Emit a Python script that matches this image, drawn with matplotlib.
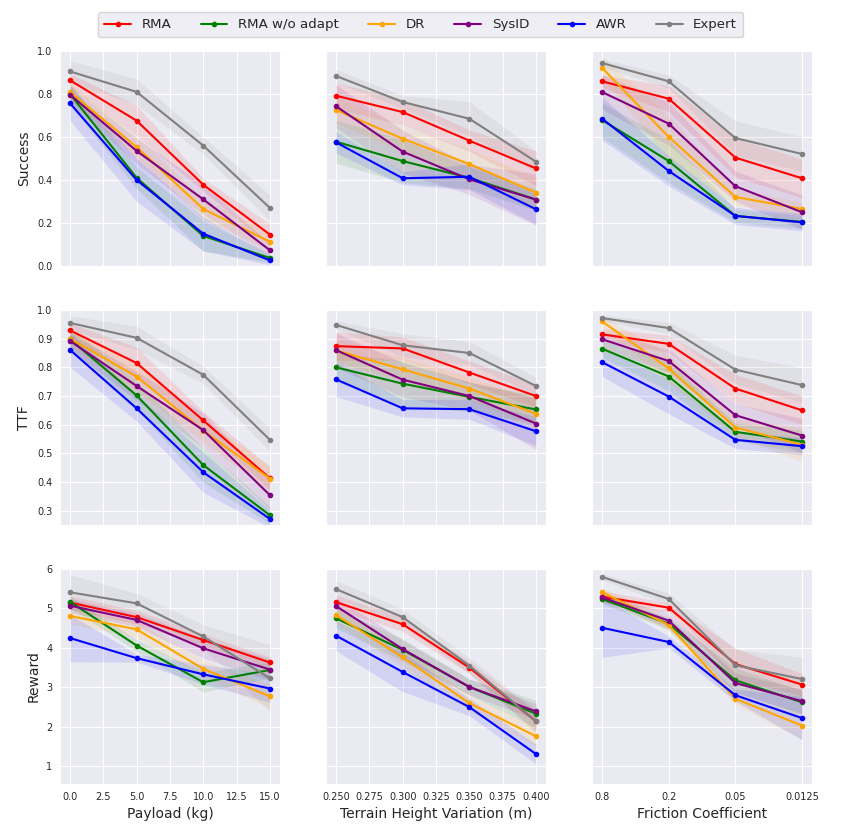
import numpy as np
import matplotlib
matplotlib.use("Agg")
import matplotlib.pyplot as plt
import seaborn as sns

# methods / colours
methods = ["RMA", "RMA w/o adapt", "DR", "SysID", "AWR", "Expert"]
colors = ["red", "green", "orange", "purple", "blue", "gray"]

# x axes
payload = [0.0, 5.0, 10.0, 15.0]
terrain = [0.25, 0.30, 0.35, 0.40]
friction_labels = ["0.8", "0.2", "0.05", "0.0125"]

# ---- Success ----
success_payload = {
    "RMA":           [0.864, 0.676, 0.378, 0.146],
    "RMA w/o adapt": [0.800, 0.410, 0.140, 0.037],
    "DR":            [0.810, 0.553, 0.265, 0.113],
    "SysID":         [0.797, 0.535, 0.310, 0.073],
    "AWR":           [0.757, 0.400, 0.150, 0.026],
    "Expert":        [0.905, 0.810, 0.560, 0.270],
}
success_payload_std = {
    "RMA":           [0.03, 0.07, 0.03, 0.05],
    "RMA w/o adapt": [0.05, 0.05, 0.07, 0.02],
    "DR":            [0.04, 0.05, 0.05, 0.04],
    "SysID":         [0.04, 0.06, 0.07, 0.03],
    "AWR":           [0.08, 0.10, 0.08, 0.02],
    "Expert":        [0.05, 0.06, 0.04, 0.06],
}
success_terrain = {
    "RMA":           [0.792, 0.716, 0.583, 0.454],
    "RMA w/o adapt": [0.578, 0.488, 0.410, 0.309],
    "DR":            [0.726, 0.592, 0.474, 0.341],
    "SysID":         [0.743, 0.532, 0.403, 0.309],
    "AWR":           [0.575, 0.408, 0.415, 0.264],
    "Expert":        [0.884, 0.763, 0.685, 0.485],
}
success_terrain_std = {
    "RMA":           [0.06, 0.06, 0.05, 0.08],
    "RMA w/o adapt": [0.10, 0.10, 0.05, 0.05],
    "DR":            [0.06, 0.06, 0.07, 0.07],
    "SysID":         [0.10, 0.10, 0.07, 0.12],
    "AWR":           [0.05, 0.03, 0.06, 0.07],
    "Expert":        [0.03, 0.03, 0.08, 0.05],
}
success_friction = {
    "RMA":           [0.859, 0.778, 0.504, 0.408],
    "RMA w/o adapt": [0.679, 0.488, 0.233, 0.205],
    "DR":            [0.922, 0.600, 0.321, 0.265],
    "SysID":         [0.809, 0.662, 0.371, 0.250],
    "AWR":           [0.685, 0.442, 0.233, 0.203],
    "Expert":        [0.944, 0.859, 0.595, 0.521],
}
success_friction_std = {
    "RMA":           [0.03, 0.06, 0.09, 0.09],
    "RMA w/o adapt": [0.08, 0.10, 0.03, 0.03],
    "DR":            [0.05, 0.10, 0.04, 0.03],
    "SysID":         [0.08, 0.10, 0.07, 0.08],
    "AWR":           [0.10, 0.07, 0.04, 0.04],
    "Expert":        [0.02, 0.03, 0.08, 0.08],
}

# ---- TTF ----
ttf_payload = {
    "RMA":           [0.929, 0.815, 0.615, 0.413],
    "RMA w/o adapt": [0.898, 0.702, 0.459, 0.284],
    "DR":            [0.900, 0.768, 0.579, 0.412],
    "SysID":         [0.892, 0.735, 0.581, 0.354],
    "AWR":           [0.861, 0.657, 0.434, 0.271],
    "Expert":        [0.955, 0.903, 0.774, 0.547],
}
ttf_payload_std = {
    "RMA":           [0.025, 0.055, 0.03, 0.04],
    "RMA w/o adapt": [0.04, 0.05, 0.06, 0.03],
    "DR":            [0.03, 0.05, 0.04, 0.045],
    "SysID":         [0.03, 0.05, 0.06, 0.05],
    "AWR":           [0.06, 0.045, 0.07, 0.03],
    "Expert":        [0.025, 0.04, 0.03, 0.04],
}
ttf_terrain = {
    "RMA":           [0.874, 0.866, 0.782, 0.700],
    "RMA w/o adapt": [0.800, 0.743, 0.697, 0.653],
    "DR":            [0.859, 0.793, 0.726, 0.638],
    "SysID":         [0.860, 0.757, 0.700, 0.604],
    "AWR":           [0.758, 0.657, 0.654, 0.577],
    "Expert":        [0.948, 0.877, 0.850, 0.735],
}
ttf_terrain_std = {
    "RMA":           [0.05, 0.04, 0.04, 0.04],
    "RMA w/o adapt": [0.05, 0.08, 0.05, 0.05],
    "DR":            [0.04, 0.04, 0.04, 0.05],
    "SysID":         [0.06, 0.06, 0.05, 0.09],
    "AWR":           [0.06, 0.03, 0.035, 0.05],
    "Expert":        [0.015, 0.04, 0.04, 0.03],
}
ttf_friction = {
    "RMA":           [0.915, 0.882, 0.726, 0.650],
    "RMA w/o adapt": [0.865, 0.768, 0.575, 0.541],
    "DR":            [0.960, 0.796, 0.590, 0.530],
    "SysID":         [0.898, 0.822, 0.633, 0.562],
    "AWR":           [0.818, 0.698, 0.547, 0.525],
    "Expert":        [0.972, 0.937, 0.792, 0.738],
}
ttf_friction_std = {
    "RMA":           [0.02, 0.03, 0.05, 0.05],
    "RMA w/o adapt": [0.03, 0.05, 0.03, 0.04],
    "DR":            [0.02, 0.05, 0.03, 0.06],
    "SysID":         [0.03, 0.04, 0.04, 0.06],
    "AWR":           [0.05, 0.06, 0.03, 0.03],
    "Expert":        [0.01, 0.02, 0.05, 0.06],
}

# ---- Reward ----
reward_payload = {
    "RMA":           [5.15, 4.78, 4.20, 3.63],
    "RMA w/o adapt": [5.17, 4.06, 3.13, 3.44],
    "DR":            [4.81, 4.47, 3.47, 2.77],
    "SysID":         [5.07, 4.71, 3.99, 3.45],
    "AWR":           [4.25, 3.74, 3.33, 2.97],
    "Expert":        [5.41, 5.13, 4.29, 3.23],
}
reward_payload_std = {
    "RMA":           [0.17, 0.17, 0.15, 0.14],
    "RMA w/o adapt": [0.15, 0.15, 0.25, 0.20],
    "DR":            [0.20, 0.20, 0.22, 0.30],
    "SysID":         [0.17, 0.17, 0.25, 0.27],
    "AWR":           [0.60, 0.10, 0.25, 0.35],
    "Expert":        [0.45, 0.25, 0.30, 0.85],
}
reward_terrain = {
    "RMA":           [5.16, 4.60, 3.50, 2.14],
    "RMA w/o adapt": [4.75, 3.95, 3.01, 2.33],
    "DR":            [4.83, 3.76, 2.60, 1.76],
    "SysID":         [5.06, 3.97, 3.01, 2.39],
    "AWR":           [4.31, 3.39, 2.50, 1.31],
    "Expert":        [5.49, 4.78, 3.55, 2.14],
}
reward_terrain_std = {
    "RMA":           [0.18, 0.18, 0.15, 0.25],
    "RMA w/o adapt": [0.25, 0.28, 0.20, 0.35],
    "DR":            [0.20, 0.25, 0.20, 0.25],
    "SysID":         [0.22, 0.23, 0.20, 0.20],
    "AWR":           [0.38, 0.50, 0.22, 0.25],
    "Expert":        [0.22, 0.20, 0.20, 0.30],
}
reward_friction = {
    "RMA":           [5.30, 5.02, 3.59, 3.07],
    "RMA w/o adapt": [5.24, 4.61, 3.18, 2.62],
    "DR":            [5.41, 4.58, 2.71, 2.03],
    "SysID":         [5.28, 4.69, 3.11, 2.65],
    "AWR":           [4.51, 4.15, 2.80, 2.22],
    "Expert":        [5.80, 5.24, 3.56, 3.21],
}
reward_friction_std = {
    "RMA":           [0.15, 0.12, 0.40, 0.28],
    "RMA w/o adapt": [0.12, 0.15, 0.30, 0.30],
    "DR":            [0.12, 0.15, 0.15, 0.35],
    "SysID":         [0.10, 0.18, 0.25, 0.30],
    "AWR":           [0.75, 0.15, 0.15, 0.55],
    "Expert":        [0.08, 0.15, 0.40, 0.55],
}

sns.set_style("darkgrid")

fig, axes = plt.subplots(3, 3, figsize=(8.57, 8.31), dpi=100,
                         sharex='col', sharey='row')
fig.subplots_adjust(left=0.070, right=0.9475, top=0.9386, bottom=0.0566,
                    hspace=0.205, wspace=0.21)

xs = [payload, terrain, list(range(4))]
panels = [
    [(success_payload, success_payload_std), (success_terrain, success_terrain_std),
     (success_friction, success_friction_std)],
    [(ttf_payload, ttf_payload_std), (ttf_terrain, ttf_terrain_std),
     (ttf_friction, ttf_friction_std)],
    [(reward_payload, reward_payload_std), (reward_terrain, reward_terrain_std),
     (reward_friction, reward_friction_std)],
]

handles = []
for r in range(3):
    for c in range(3):
        ax = axes[r][c]
        mean, std = panels[r][c]
        x = np.array(xs[c])
        for m, col in zip(methods, colors):
            mu = np.array(mean[m])
            sd = np.array(std[m])
            h, = ax.plot(x, mu, color=col, marker='o', markersize=3,
                         linewidth=1.5, label=m)
            ax.fill_between(x, mu - sd, mu + sd, color=col, alpha=0.1,
                            linewidth=0)
            if r == 0 and c == 0:
                handles.append(h)
        ax.tick_params(labelsize=7, pad=2)

# y axes
axes[0][0].set_ylim(0, 1.0)
axes[0][0].set_yticks(np.arange(0, 1.01, 0.2))
axes[1][0].set_ylim(0.25, 1.0)
axes[1][0].set_yticks(np.arange(0.3, 1.01, 0.1))
axes[2][0].set_ylim(0.55, 6.0)
axes[2][0].set_yticks([1, 2, 3, 4, 5, 6])
axes[0][0].set_ylabel("Success", fontsize=10)
axes[1][0].set_ylabel("TTF", fontsize=10)
axes[2][0].set_ylabel("Reward", fontsize=10)

# x axes
axes[2][0].set_xticks(np.arange(0, 15.1, 2.5))
axes[2][1].set_xticks(np.arange(0.25, 0.401, 0.025))
axes[2][1].set_xticklabels(["%.3f" % v for v in np.arange(0.25, 0.401, 0.025)])
axes[2][2].set_xticks(range(4))
axes[2][2].set_xticklabels(friction_labels)
axes[2][0].set_xlabel("Payload (kg)", fontsize=10)
axes[2][1].set_xlabel("Terrain Height Variation (m)", fontsize=10)
axes[2][2].set_xlabel("Friction Coefficient", fontsize=10)

fig.legend(handles, methods, loc='upper center', bbox_to_anchor=(0.491, 0.993),
           ncol=6, fontsize=9.6, frameon=True, facecolor='#EAEAF2',
           edgecolor='#CCCCCC', columnspacing=2.2, borderpad=0.45)

plt.savefig("out.png", dpi=100)
